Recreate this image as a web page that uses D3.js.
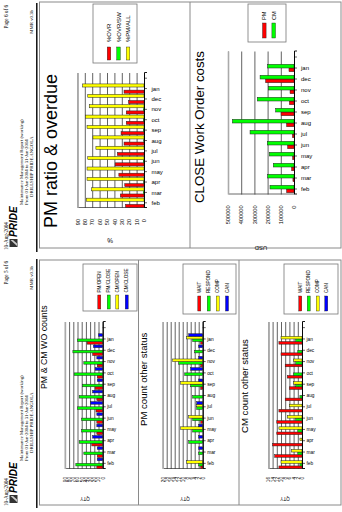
<!DOCTYPE html>
<html>
<head>
<meta charset="utf-8">
<script src="https://cdn.jsdelivr.net/npm/d3@7"></script>
<style>
body { margin: 0; background: #fff; }
svg { display: block; }
</style>
</head>
<body>
<svg id="mainsvg" width="342" height="512"></svg>
<script>
// months as they run along the category axis (left to right on the printed page)
const months = ['feb', 'mar', 'apr', 'may', 'jun', 'jul', 'aug', 'sep', 'oct', 'nov', 'dec', 'jan'];

// PM ratio & overdue (%)
const pctOvr   = [25, 32, 26, 34, 39, 36, 27, 31, 24, 24, 21, 27];
const pctOvrSw = [0, 1, 0.5, 0, 1, 0, 0.5, 1, 1, 1, 0, 0];
const pctPmAll = [78, 71, 77, 77, 76, 65, 69, 77, 79, 74, 76, 83];
const ratioTicks = [0, 10, 20, 30, 40, 50, 60, 70, 80, 90];

// CLOSE Work Order costs (USD)
const costPm = [56000, 8000, 18000, 10000, 48000, 12000, 56000, 98000, 35000, 30000, 215000, 38000];
const costCm = [182000, 199000, 157000, 187000, 202000, 333000, 467000, 139000, 278000, 194000, 257000, 199000];
const costTicks = [0, 100000, 200000, 300000, 400000, 500000];

// PM & CM WO counts
const woPmOpen  = [14, 13, 26, 14, 14, 16, 14, 18, 13, 13, 24, 37];
const woPmClose = [64, 45, 56, 50, 50, 60, 56, 48, 68, 45, 71, 60];
const woCmOpen  = [0, 0, 0, 0, 0, 0, 0, 0, 0, 0, 0, 0];
const woCmClose = [13, 13, 24, 14, 14, 29, 24, 13, 18, 14, 22, 10];
const woTicks = [0, 10, 20, 30, 40, 50, 60, 70, 80, 90];

// PM count other status
const pmWait    = [1, 0, 0, 0, 1, 0, 0, 1, 0, 1, 0, 1];
const pmRespond = [2, 2, 7, 5, 5, 3, 5, 6, 9, 12, 4, 5];
const pmComp    = [8, 0, 0, 11, 7, 3, 0, 11, 0, 15, 0, 8];
const pmCan     = [0, 2, 2, 2, 0, 3, 0, 2, 6, 2, 2, 7];
const pmStTicks = [0, 2, 4, 6, 8, 10, 12, 14, 16, 18, 20];

// CM count other status
const cmWait    = [11, 13, 14, 12, 12, 11, 8, 6, 7, 8, 10, 11];
const cmRespond = [1, 2, 0, 2, 3, 0, 1, 3, 4, 3, 2, 3];
const cmComp    = [10, 5, 1, 11, 7, 6, 0, 4, 0, 4, 0, 10];
const cmCan     = [0, 0, 0, 0, 0, 0, 0, 0, 0, 0, 0, 0];
const cmStTicks = [0, 2, 4, 6, 8, 10, 12, 14, 16];

const RED = '#ff0000', GREEN = '#00ff00', YELLOW = '#ffff00', BLUE = '#0000ff';
const sans = '"Liberation Sans", Arial, sans-serif';
const serif = '"Liberation Serif", "Times New Roman", serif';

const svg = d3.select('#mainsvg');

// each printed page is portrait 256 x 342, the scan shows it turned on its side
const page1 = svg.append('g').attr('transform', 'translate(0,256) rotate(-90)');
const page2 = svg.append('g').attr('transform', 'translate(0,512) rotate(-90)');

const drawHeader = function(pg, pageText) {
    pg.append('text').attr('x', 6).attr('y', 7.5)
      .attr('font-family', serif).attr('font-size', 5.2).text('10-Aug-2004');
    pg.append('text').attr('x', 251).attr('y', 8).attr('text-anchor', 'end')
      .attr('font-family', serif).attr('font-size', 5.2).text(pageText);

    // PRIDE logo
    pg.append('rect').attr('x', 9).attr('y', 9.5).attr('width', 8).attr('height', 8).attr('fill', '#333');
    pg.append('path').attr('d', 'M10,17 L16,10.5 L16,13 L12.5,17 Z').attr('fill', '#ccc');
    pg.append('text').attr('x', 19).attr('y', 17.3)
      .attr('font-family', sans).attr('font-size', 10).attr('font-weight', 'bold')
      .attr('font-style', 'italic').text('PRIDE');

    pg.append('text').attr('x', 51).attr('y', 23)
      .attr('font-family', serif).attr('font-size', 4.8).text('Maintenance Management Report (working)');
    pg.append('text').attr('x', 51).attr('y', 27.8)
      .attr('font-family', serif).attr('font-size', 4.8).text('From 01-Jan-2004 to 31-Jan-2004');
    pg.append('text').attr('x', 59).attr('y', 33)
      .attr('font-family', serif).attr('font-size', 4.8).text('DRILLSHIP PRIDE ANGOLA');
    pg.append('text').attr('x', 246).attr('y', 33).attr('text-anchor', 'end')
      .attr('font-family', serif).attr('font-size', 4.8).text('MMR v0.3b');

    pg.append('line').attr('x1', 4).attr('x2', 253).attr('y1', 36.8).attr('y2', 36.8)
      .attr('stroke', '#000').attr('stroke-width', 1.4);
};

const drawPanel = function(pg, x0, x1, y0, y1, dividers) {
    pg.append('rect').attr('x', x0).attr('y', y0).attr('width', x1 - x0).attr('height', y1 - y0)
      .attr('fill', 'none').attr('stroke', '#8a8a8a').attr('stroke-width', 1);
    dividers.forEach(d => {
        pg.append('line').attr('x1', x0).attr('x2', x1).attr('y1', d).attr('y2', d)
          .attr('stroke', '#8a8a8a').attr('stroke-width', 1);
    });
};

const drawLegend = function(pg, c) {
    pg.append('rect').attr('x', c.x0).attr('y', c.y0)
      .attr('width', c.x1 - c.x0).attr('height', c.y1 - c.y0)
      .attr('fill', '#fff').attr('stroke', '#777').attr('stroke-width', 0.8);
    const item = pg.selectAll(null).data(c.items).join('g');
    item.append('rect')
      .attr('x', c.swX0).attr('y', (d, i) => c.rows[i] - c.swH / 2)
      .attr('width', c.swX1 - c.swX0).attr('height', c.swH)
      .attr('fill', d => d.color).attr('stroke', '#222').attr('stroke-width', 0.4);
    item.append('text')
      .attr('x', c.textX).attr('y', (d, i) => c.rows[i])
      .attr('dy', '0.35em')
      .attr('font-family', sans).attr('font-size', c.font)
      .text(d => d.label);
};

const drawChart = function(pg, c) {
    const g = pg.append('g');
    const slots = months.concat(['']);
    const xScale = d3.scaleBand().domain(slots).range([c.left, c.right]);
    const yScale = d3.scaleLinear().domain([0, c.max]).range([c.zero, c.top]);

    // value axis with gridlines
    const yAxis = d3.axisLeft(yScale)
      .tickValues(c.ticks)
      .tickSize(-(c.right - c.left))
      .tickPadding(c.tickPad)
      .tickFormat(d3.format('d'));
    const ya = g.append('g').attr('transform', `translate(${c.left},0)`).call(yAxis);
    ya.select('.domain').attr('stroke', '#444').attr('stroke-width', 0.8);
    ya.selectAll('.tick line').attr('stroke', '#3a3a3a').attr('stroke-width', 0.8);
    ya.selectAll('.tick').filter(d => d === c.max).select('line')
      .attr('stroke', '#aaa').attr('stroke-width', 1.6);
    ya.selectAll('.tick text').attr('font-family', sans).attr('font-size', c.tickFont).attr('fill', '#000');

    // bars
    const n = c.series.length;
    c.series.forEach((s, k) => {
        g.selectAll(null).data(months.map((m, i) => ({m: m, v: s.values[i]})))
          .join('rect')
          .attr('x', d => xScale(d.m) + xScale.bandwidth() / 2 - n * c.bw / 2 + k * c.bw)
          .attr('y', d => yScale(d.v))
          .attr('width', c.bw)
          .attr('height', d => c.zero - yScale(d.v))
          .attr('fill', s.color)
          .attr('stroke', d => d.v > 0 ? '#222' : 'none')
          .attr('stroke-width', 0.5);
    });

    // category axis at zero
    const xAxis = d3.axisBottom(xScale).tickSize(3).tickPadding(0);
    const xa = g.append('g').attr('transform', `translate(0,${c.zero})`).call(xAxis);
    xa.select('.domain').attr('stroke', '#000').attr('stroke-width', 0.9);
    xa.selectAll('.tick line').attr('stroke', '#000').attr('stroke-width', 0.6);
    xa.selectAll('.tick text')
      .attr('transform', 'rotate(90)')
      .attr('x', c.catPad).attr('y', 0).attr('dy', '0.35em')
      .attr('text-anchor', 'start')
      .attr('font-family', sans).attr('font-size', c.catFont).attr('fill', '#000');

    // axis title
    g.append('text')
      .attr('transform', `translate(${c.yTitle[0]},${c.yTitle[1]}) rotate(-90)`)
      .attr('text-anchor', 'middle').attr('dy', '0.35em')
      .attr('font-family', sans).attr('font-size', c.yTitleFont)
      .text(c.yLabel);

    // chart title
    g.append('text').attr('x', c.title[0]).attr('y', c.title[1])
      .attr('font-family', sans).attr('font-size', c.titleFont)
      .text(c.titleText);
};

// ---------- page 6 (top of the scan) ----------
drawHeader(page1, 'Page 6 of 6');
drawPanel(page1, 8, 254, 39.5, 341, [190]);

drawChart(page1, {
    left: 48, right: 183, zero: 144, top: 77.4, max: 90, ticks: ratioTicks,
    tickPad: 11, tickFont: 5.6, catPad: 7.5, catFont: 6, bw: 3.1,
    series: [
        {color: RED, values: pctOvr},
        {color: GREEN, values: pctOvrSw},
        {color: YELLOW, values: pctPmAll}
    ],
    yLabel: '%', yTitle: [16, 110], yTitleFont: 6.5,
    titleText: 'PM ratio & overdue', title: [28, 57], titleFont: 18
});
drawLegend(page1, {
    x0: 193, x1: 252, y0: 93, y1: 137, swX0: 196, swX1: 209, swH: 3.6, textX: 214, font: 6,
    rows: [109, 118.5, 128],
    items: [{label: '%OVR', color: RED}, {label: '%OVR/SW', color: GREEN}, {label: '%PM/ALL', color: YELLOW}]
});

drawChart(page1, {
    left: 61.5, right: 204.5, zero: 294, top: 228, max: 500000, ticks: costTicks,
    tickPad: 11, tickFont: 5.6, catPad: 7, catFont: 6, bw: 3.7,
    series: [
        {color: RED, values: costPm},
        {color: GREEN, values: costCm}
    ],
    yLabel: 'USD', yTitle: [8, 261], yTitleFont: 6,
    titleText: 'CLOSE Work Order costs', title: [53, 204], titleFont: 13.3
});
drawLegend(page1, {
    x0: 214, x1: 252, y0: 248, y1: 286, swX0: 218, swX1: 233, swH: 3.6, textX: 236, font: 5.6,
    rows: [264.3, 273.7],
    items: [{label: 'PM', color: RED}, {label: 'CM', color: GREEN}]
});

// ---------- page 5 (bottom of the scan) ----------
drawHeader(page2, 'Page 5 of 6');
drawPanel(page2, 7, 252, 39.5, 341, [138.5, 239]);

const smallChart = {
    left: 43, right: 190, tickPad: 8, tickFont: 4.6, catPad: 4.5, catFont: 4.8, bw: 2.6,
    yLabel: 'QTY', yTitleFont: 4.6
};

drawChart(page2, Object.assign({}, smallChart, {
    zero: 102.7, top: 64.9, max: 90, ticks: woTicks,
    series: [
        {color: RED, values: woPmOpen},
        {color: GREEN, values: woPmClose},
        {color: YELLOW, values: woCmOpen},
        {color: BLUE, values: woCmClose}
    ],
    yTitle: [13, 85],
    titleText: 'PM & CM WO counts', title: [123, 47], titleFont: 8.8
}));
drawLegend(page2, {
    x0: 201, x1: 248, y0: 83, y1: 137, swX0: 203, swX1: 217, swH: 3, textX: 219.5, font: 4.6,
    rows: [99.3, 108.7, 117.3, 126.7],
    items: [{label: 'PM/OPEN', color: RED}, {label: 'PM/CLOSE', color: GREEN},
            {label: 'CM/OPEN', color: YELLOW}, {label: 'CM/CLOSE', color: BLUE}]
});

drawChart(page2, Object.assign({}, smallChart, {
    zero: 202.7, top: 162.7, max: 20, ticks: pmStTicks,
    series: [
        {color: RED, values: pmWait},
        {color: GREEN, values: pmRespond},
        {color: YELLOW, values: pmComp},
        {color: BLUE, values: pmCan}
    ],
    yTitle: [13, 185],
    titleText: 'PM count other status', title: [86, 146.5], titleFont: 9.6
}));
drawLegend(page2, {
    x0: 198, x1: 248, y0: 183, y1: 236, swX0: 201, swX1: 216, swH: 3, textX: 219, font: 4.6,
    rows: [199.3, 208.7, 217.7, 227],
    items: [{label: 'WAIT', color: RED}, {label: 'RESPOND', color: GREEN},
            {label: 'COMP', color: YELLOW}, {label: 'CAN', color: BLUE}]
});

drawChart(page2, Object.assign({}, smallChart, {
    zero: 302, top: 268.4, max: 16, ticks: cmStTicks,
    series: [
        {color: RED, values: cmWait},
        {color: GREEN, values: cmRespond},
        {color: YELLOW, values: cmComp},
        {color: BLUE, values: cmCan}
    ],
    yTitle: [13, 285],
    titleText: 'CM count other status', title: [79, 248], titleFont: 9.6
}));
drawLegend(page2, {
    x0: 198, x1: 248, y0: 284, y1: 338, swX0: 201, swX1: 216, swH: 3, textX: 219, font: 4.6,
    rows: [300.3, 308.7, 317.7, 326.3],
    items: [{label: 'WAIT', color: RED}, {label: 'RESPOND', color: GREEN},
            {label: 'COMP', color: YELLOW}, {label: 'CAN', color: BLUE}]
});
</script>
</body>
</html>
